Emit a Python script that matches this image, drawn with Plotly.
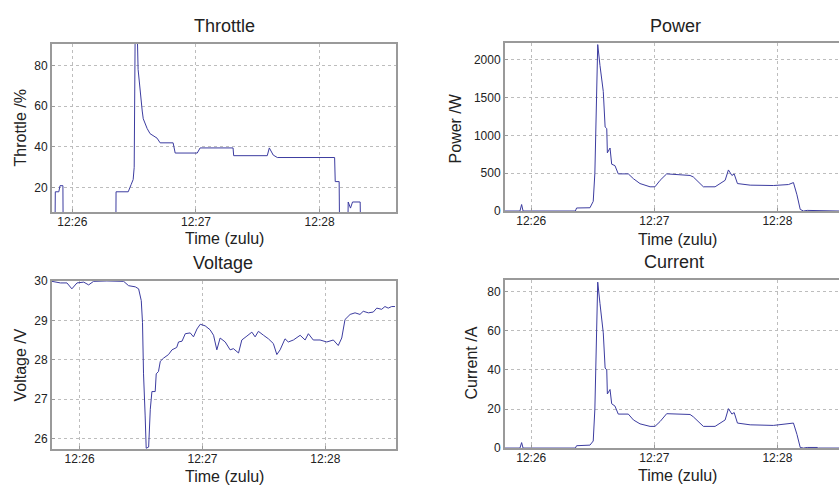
import pandas as pd
import plotly.graph_objects as go

BASE = "2013-01-01 12:26:00"

# ---- data (time in seconds after 12:26:00) ----
throttle_t = [-9.9, -8.4, -8.3, -6.6, -6.0, -4.6, -4.5, 21.1, 21.2, 27.1, 28.5, 29.5, 30.0, 30.5, 31.4,
              31.9, 33.9, 34.4, 36.3, 37.7, 41.1, 42.6, 48.9, 49.9, 60.6, 62.0, 78.0, 78.3, 94.6,
              95.6, 97.5, 99.5, 127.3, 127.6, 129.5, 129.7, 133.7, 133.9, 135.0, 136.0, 139.7, 139.9, 157.0]
throttle_v = [5, 5, 18, 18, 21, 21, 0, 0, 18, 18, 21.5, 24, 30, 100, 100,
              78, 57.6, 53.8, 49, 46.5, 44.3, 42, 42, 37, 37, 39.5, 39.5, 35.7, 35.7,
              39.5, 36, 34.8, 34.8, 23, 23, 0, 0, 13, 10, 13, 13, 0, 0]

power_t = [-12.8, -5.5, -4.7, -4.0, 21.5, 22.1, 28.6, 30.2, 31.0, 31.5, 32.0, 32.4, 33.5, 35.1, 36.0,
           36.8, 37.1, 38.4, 39.2, 40.8, 42.4, 47.3, 49.8, 53.0, 57.9, 60.3, 62.8, 66.0, 77.4,
           79.0, 83.9, 89.6, 94.5, 96.1, 97.8, 98.9, 100.5, 106.7, 118.0, 125.4, 127.8, 129.5,
           131.1, 132.7, 134.5, 139.4, 139.9, 150.0]
power_v = [0, 0, 86, 0, 0, 40, 43, 128, 500, 1300, 2000, 2200, 1923, 1581, 1111,
           1090, 769, 833, 619, 600, 491, 491, 427, 363, 320, 320, 406, 491, 470,
           450, 320, 320, 406, 543, 470, 490, 363, 342, 337, 350, 376, 214,
           21, 0, 8, 8, 0, 0]

current_t = power_t
current_v = [0, 0, 2.8, 0, 0, 1.2, 1.5, 3.6, 20, 50, 78, 85, 74, 59, 41,
             40, 27.7, 30, 22.7, 21.5, 17.4, 17.4, 14.4, 12.4, 11.1, 11.1, 13.6, 17.6, 17.2,
             16, 11.1, 11.1, 14.4, 20.2, 17.4, 18.2, 12.8, 11.9, 11.6, 12.4, 12.8, 7,
             0.3, 0, 0.3, 0.3, 0, 0]

voltage_t = [-13.5, -9.4, -6.2, -3.8, -1.3, 2.0, 4.4, 6.8, 13.3, 21.5, 23.9, 27.2, 28.8, 30.1, 30.7,
             31.2, 32.0, 32.5, 33.7, 34.5, 35.3, 36.9, 37.4, 38.5, 39.4, 41.0, 43.4, 45.1, 47.4,
             48.3, 50.0, 51.6, 54.0, 55.6, 57.3, 58.9, 61.3, 63.7, 65.4, 67.0, 68.6, 71.1, 73.5,
             75.1, 77.6, 79.2, 81.7, 84.1, 85.7, 87.3, 89.8, 92.2, 94.6, 96.3, 97.9, 100.3, 101.9,
             104.4, 107.7, 110.1, 111.7, 114.1, 117.4, 120.7, 123.9, 126.3, 128.0, 129.6, 132.1,
             134.5, 136.9, 138.5, 141.0, 143.4, 145.1, 147.5, 149.1, 150.7, 152.4, 154.0]
voltage_v = [29.99, 29.95, 29.95, 29.80, 29.95, 29.97, 29.90, 29.99, 30.0, 29.99, 29.88, 29.85, 29.80, 29.50, 28.94,
             27.64, 26.57, 25.75, 25.78, 26.74, 27.19, 27.19, 27.64, 27.70, 27.96, 28.04, 28.13, 28.25, 28.31,
             28.45, 28.47, 28.66, 28.68, 28.58, 28.78, 28.90, 28.86, 28.76, 28.62, 28.25, 28.55, 28.45, 28.25,
             28.28, 28.17, 28.50, 28.60, 28.70, 28.58, 28.72, 28.62, 28.53, 28.41, 28.13, 28.25, 28.53, 28.45,
             28.50, 28.62, 28.50, 28.66, 28.50, 28.50, 28.45, 28.50, 28.36, 28.55, 29.02, 29.15,
             29.19, 29.15, 29.23, 29.19, 29.21, 29.31, 29.28, 29.35, 29.31, 29.35, 29.35]

titles = ["Throttle", "Power", "Voltage", "Current"]
ylabels = ["Throttle /%", "Power /W", "Voltage /V", "Current /A"]
xlabel = "Time (zulu)"
yticks = [[20, 40, 60, 80], [0, 500, 1000, 1500, 2000], [26, 27, 28, 29, 30], [0, 20, 40, 60, 80]]


def to_time(secs):
    return [pd.Timestamp(BASE) + pd.to_timedelta(s, unit="s") for s in secs]


W, H = 839, 491
LINE = "#3c3ca0"
FONT = "Liberation Sans, Arial, sans-serif"

fig = go.Figure()
series = [(throttle_t, throttle_v), (power_t, power_v), (voltage_t, voltage_v), (current_t, current_v)]
for i, (t, v) in enumerate(series):
    sfx = "" if i == 0 else str(i + 1)
    fig.add_trace(go.Scatter(x=to_time(t), y=v, mode="lines", line=dict(color=LINE, width=1),
                             xaxis="x" + sfx, yaxis="y" + sfx, showlegend=False, hoverinfo="skip"))

# pixel boxes [left, right, top, bottom]
boxes = [(52, 396, 38, 211), (505, 839, 37, 210), (52, 396, 282, 455), (505, 839, 281, 454)]
xranges = [(-9.9, 157.1), (-12.8, 150.0), (-13.5, 154.5), (-12.8, 150.0)]
yranges = [(8.1, 90.5), (0, 2222), (25.73, 30.0), (0, 86.1)]

common_ax = dict(showline=True, linecolor="#9a9a9a", linewidth=2, showgrid=True, gridcolor="#bdbdbd",
                 griddash="dot", gridwidth=1, zeroline=False, ticks="inside", ticklen=3,
                 tickcolor="#9a9a9a", tickfont=dict(family=FONT, size=12, color="#222"))

layout = {}
for i in range(4):
    sfx = "" if i == 0 else str(i + 1)
    l, r, tp, b = boxes[i]
    xr = to_time(xranges[i])
    layout["xaxis" + sfx] = dict(common_ax, domain=[l / W, r / W], range=xr, anchor="y" + sfx,
                                 type="date", tickformat="%H:%M", dtick=60000,
                                 tick0=pd.Timestamp(BASE), mirror=True, ticklabelstandoff=-2)
    layout["yaxis" + sfx] = dict(common_ax, domain=[1 - b / H, 1 - tp / H], range=list(yranges[i]),
                                 anchor="x" + sfx, tickvals=yticks[i],
                                 mirror=(True if i in (0, 2) else False))

fig.update_layout(**layout)

# text annotations (pixel centres)
title_pos = [(224, 20), (675, 20), (223, 263), (674, 262)]
xlab_pos = [(224, 238), (677, 239), (224, 483), (677, 482)]
ylab_pos = [(20, 125), (455, 125), (20, 369), (472, 367)]
ann = []
for i in range(4):
    tx, ty = title_pos[i]
    ann.append(dict(text=titles[i], x=tx / W, y=1 - ty / H, xref="paper", yref="paper",
                    xanchor="center", yanchor="middle", showarrow=False,
                    font=dict(family=FONT, size=18, color="#222")))
    lx, ly = xlab_pos[i]
    ann.append(dict(text=xlabel, x=lx / W, y=1 - ly / H, xref="paper", yref="paper",
                    xanchor="center", yanchor="middle", showarrow=False,
                    font=dict(family=FONT, size=16, color="#222")))
    yx, yy = ylab_pos[i]
    ann.append(dict(text=ylabels[i], x=yx / W, y=1 - yy / H, xref="paper", yref="paper",
                    xanchor="center", yanchor="middle", showarrow=False, textangle=-90,
                    font=dict(family=FONT, size=16, color="#222")))

fig.update_layout(width=W, height=H, margin=dict(l=0, r=0, t=0, b=0),
                  paper_bgcolor="white", plot_bgcolor="white", annotations=ann,
                  showlegend=False)

fig.write_html("out.html", config={"displayModeBar": False},
               post_script="document.body.style.margin='0';document.body.style.overflow='hidden';")
